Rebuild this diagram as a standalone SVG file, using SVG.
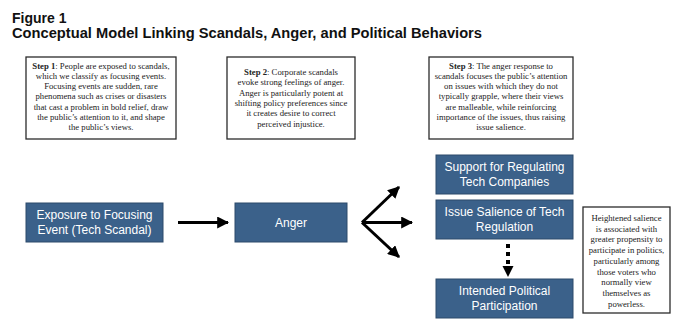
<svg xmlns="http://www.w3.org/2000/svg" width="680" height="334" viewBox="0 0 680 334">
<defs>
<style>
.title{font-family:"Liberation Sans",Arial,sans-serif;font-weight:bold;font-size:14px;fill:#111}
.note{fill:#fff;stroke:#2b2b2b;stroke-width:1.3}
.nt{font-family:"Liberation Serif","Times New Roman",serif;font-size:8.7px;fill:#222;text-anchor:middle}
.blue{fill:#3b618a;stroke:#2c4a6b;stroke-width:1}
.bt{font-family:"Liberation Sans",Arial,sans-serif;font-size:12px;fill:#fff;text-anchor:middle}
.ar{stroke:#000;stroke-width:3;fill:none}
</style>
<marker id="ah" viewBox="0 0 10 10" refX="9" refY="5" markerWidth="4" markerHeight="4" markerUnits="strokeWidth" orient="auto">
<path d="M0,0 L10,5 L0,10 Z" fill="#000"/>
</marker>
</defs>
<rect width="680" height="334" fill="#fff"/>
<text class="title" x="12" y="23">Figure 1</text>
<text class="title" x="12" y="38" textLength="470" lengthAdjust="spacingAndGlyphs">Conceptual Model Linking Scandals, Anger, and Political Behaviors</text>

<g id="step1">
<rect class="note" x="26" y="57" width="150" height="82"/>
<text class="nt" x="101" y="68.5"><tspan font-weight="bold">Step 1</tspan>: People are exposed to scandals,</text>
<text class="nt" x="101" y="78.8">which we classify as focusing events.</text>
<text class="nt" x="101" y="89.1">Focusing events are sudden, rare</text>
<text class="nt" x="101" y="99.4">phenomena such as crises or disasters</text>
<text class="nt" x="101" y="109.7">that cast a problem in bold relief, draw</text>
<text class="nt" x="101" y="120">the public’s attention to it, and shape</text>
<text class="nt" x="101" y="130.3">the public’s views.</text>
</g>
<g id="step2">
<rect class="note" x="227" y="57" width="128" height="82"/>
<text class="nt" x="291" y="75"><tspan font-weight="bold">Step 2</tspan>: Corporate scandals</text>
<text class="nt" x="291" y="85.3">evoke strong feelings of anger.</text>
<text class="nt" x="291" y="95.6">Anger is particularly potent at</text>
<text class="nt" x="291" y="105.9">shifting policy preferences since</text>
<text class="nt" x="291" y="116.2">it creates desire to correct</text>
<text class="nt" x="291" y="126.5">perceived injustice.</text>
</g>
<g id="step3">
<rect class="note" x="429" y="57" width="144" height="82"/>
<text class="nt" x="501" y="68.5"><tspan font-weight="bold">Step 3</tspan>: The anger response to</text>
<text class="nt" x="501" y="78.8">scandals focuses the public’s attention</text>
<text class="nt" x="501" y="89.1">on issues with which they do not</text>
<text class="nt" x="501" y="99.4">typically grapple, where their views</text>
<text class="nt" x="501" y="109.7">are malleable, while reinforcing</text>
<text class="nt" x="501" y="120">importance of the issues, thus raising</text>
<text class="nt" x="501" y="130.3">issue salience.</text>
</g>

<g id="exposure">
<rect class="blue" x="26" y="203" width="137" height="39"/>
<text class="bt" x="94.5" y="219">Exposure to Focusing</text>
<text class="bt" x="94.5" y="234">Event (Tech Scandal)</text>
</g>
<g id="anger">
<rect class="blue" x="235" y="203" width="112" height="39"/>
<text class="bt" x="291" y="227">Anger</text>
</g>
<g id="support">
<rect class="blue" x="436" y="155" width="137" height="39"/>
<text class="bt" x="504.5" y="171">Support for Regulating</text>
<text class="bt" x="504.5" y="186">Tech Companies</text>
</g>
<g id="salience">
<rect class="blue" x="436" y="200" width="137" height="39"/>
<text class="bt" x="504.5" y="216">Issue Salience of Tech</text>
<text class="bt" x="504.5" y="231">Regulation</text>
</g>
<g id="participation">
<rect class="blue" x="436" y="279" width="137" height="39"/>
<text class="bt" x="504.5" y="295">Intended Political</text>
<text class="bt" x="504.5" y="310">Participation</text>
</g>
<g id="heightened">
<rect class="note" x="583" y="207" width="87" height="106"/>
<text class="nt" x="626.5" y="221">Heightened salience</text>
<text class="nt" x="626.5" y="231.7">is associated with</text>
<text class="nt" x="626.5" y="242.4">greater propensity to</text>
<text class="nt" x="626.5" y="253.1">participate in politics,</text>
<text class="nt" x="626.5" y="263.8">particularly among</text>
<text class="nt" x="626.5" y="274.5">those voters who</text>
<text class="nt" x="626.5" y="285.2">normally view</text>
<text class="nt" x="626.5" y="295.9">themselves as</text>
<text class="nt" x="626.5" y="306.6">powerless.</text>
</g>

<g id="connectors">
<line class="ar" x1="178" y1="222.5" x2="228" y2="222.5" marker-end="url(#ah)"/>
<line class="ar" x1="362" y1="222.5" x2="399" y2="187" marker-end="url(#ah)"/>
<line class="ar" x1="362" y1="222.5" x2="412" y2="222.5" marker-end="url(#ah)"/>
<line class="ar" x1="362" y1="222.5" x2="399" y2="257" marker-end="url(#ah)"/>
<line x1="508" y1="244" x2="508" y2="266" stroke="#000" stroke-width="4" stroke-dasharray="4,4"/>
<path d="M502.5,266 L513.5,266 L508,277 Z" fill="#000"/>
</g>
</svg>
